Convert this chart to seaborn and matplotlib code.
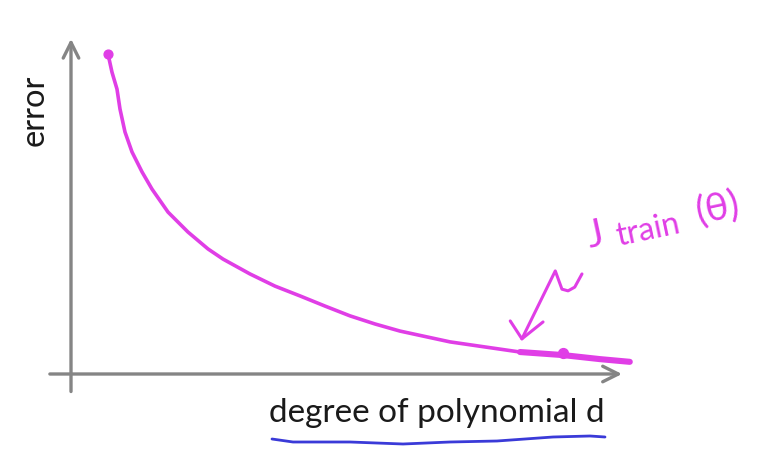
import numpy as np
import matplotlib
matplotlib.use('Agg')
import matplotlib.pyplot as plt
import seaborn as sns
import pandas as pd

sns.set_style('white')
plt.rcParams['font.family'] = ['Lato', 'DejaVu Sans']

# training error curve (degree d, error)
degree = [0.665, 0.737, 0.827, 0.881, 0.971, 1.097, 1.277, 1.457, 1.745, 2.104, 2.464, 2.734, 3.219,
          3.669, 4.119, 4.568, 5.018, 5.468, 5.917, 6.817, 7.446, 8.076, 8.849, 9.514, 10.05]
error = [9.47, 8.93, 8.43, 7.84, 7.16, 6.57, 5.98, 5.47, 4.79, 4.20, 3.70, 3.40, 2.96,
         2.60, 2.31, 2.01, 1.72, 1.48, 1.27, 0.95, 0.80, 0.65, 0.56, 0.44, 0.36]

# the thicker bit of ink near the end where J_train is pointed at
thick_d = [8.076, 8.849, 9.514, 10.05]
thick_e = [0.65, 0.56, 0.44, 0.36]

# hand drawn pointer from the label down to the curve
ptr_d = [9.19, 9.06, 8.94, 8.83, 8.71, 8.11]
ptr_e = [2.96, 2.57, 2.46, 2.51, 3.05, 1.04]
head_d = [7.90, 8.11, 8.49]
head_e = [1.57, 1.04, 1.54]

# blue underline below the x label (figure pixels)
ul_x = [272, 293, 350, 403, 450, 497, 553, 590, 605]
ul_y = [440, 443, 443, 445, 443, 442, 438, 437, 438]

pink = '#e03ee6'
grey = '#858585'

fig = plt.figure(figsize=(7.75, 4.56), dpi=100)
ax = fig.add_axes([0, 0, 1, 1])
# 1 unit of d = 55.6 px, 1 unit of error = 33.8 px, origin at pixel (71, 375)
ax.set_xlim(-71 / 55.6, (775 - 71) / 55.6)
ax.set_ylim((375 - 456) / 33.8, 375 / 33.8)
ax.axis('off')

# axes drawn as arrows
ax.annotate('', xy=(0, 10.0), xytext=(0, -0.6),
            arrowprops=dict(arrowstyle='->', lw=2.4, color=grey, mutation_scale=28))
ax.annotate('', xy=(9.96, 0), xytext=(-0.43, 0),
            arrowprops=dict(arrowstyle='->', lw=2.4, color=grey, mutation_scale=28))

df = pd.DataFrame({'degree': degree, 'error': error})
sns.lineplot(data=df, x='degree', y='error', ax=ax, color=pink, lw=2.6, sort=False)
ax.plot(thick_d, thick_e, color=pink, lw=4.4, solid_capstyle='round')
ax.scatter([degree[0]], [error[0]], s=40, color=pink, zorder=3)
ax.scatter([8.85], [0.63], s=50, color=pink, zorder=3)

ax.plot(ptr_d, ptr_e, color=pink, lw=2.2, solid_joinstyle='round')
ax.plot(head_d, head_e, color=pink, lw=2.2, solid_joinstyle='round')

# J_train(theta) hand-written label
def px(x, y):
    return (x - 71) / 55.6, (375 - y) / 33.8

ax.text(*px(595, 236), 'J', color=pink, fontsize=28, rotation=12, ha='center', va='center')
ax.text(*px(648, 230), 'train', color=pink, fontsize=23, rotation=12, ha='center', va='center')
ax.text(*px(717, 208), '(θ)', color=pink, fontsize=28, rotation=12, ha='center', va='center')

fig.text(35 / 775, 1 - 110 / 456, 'error', rotation=90, fontsize=23.5,
         ha='center', va='center', color='#1a1a1a')
fig.text(437 / 775, 1 - 413 / 456, 'degree of polynomial d', fontsize=24,
         ha='center', va='center', color='#1a1a1a')
fig.add_artist(plt.Line2D(np.array(ul_x) / 775, 1 - np.array(ul_y) / 456,
                          color='#3a3ad8', lw=2.0))

fig.savefig('out.png', dpi=100)
